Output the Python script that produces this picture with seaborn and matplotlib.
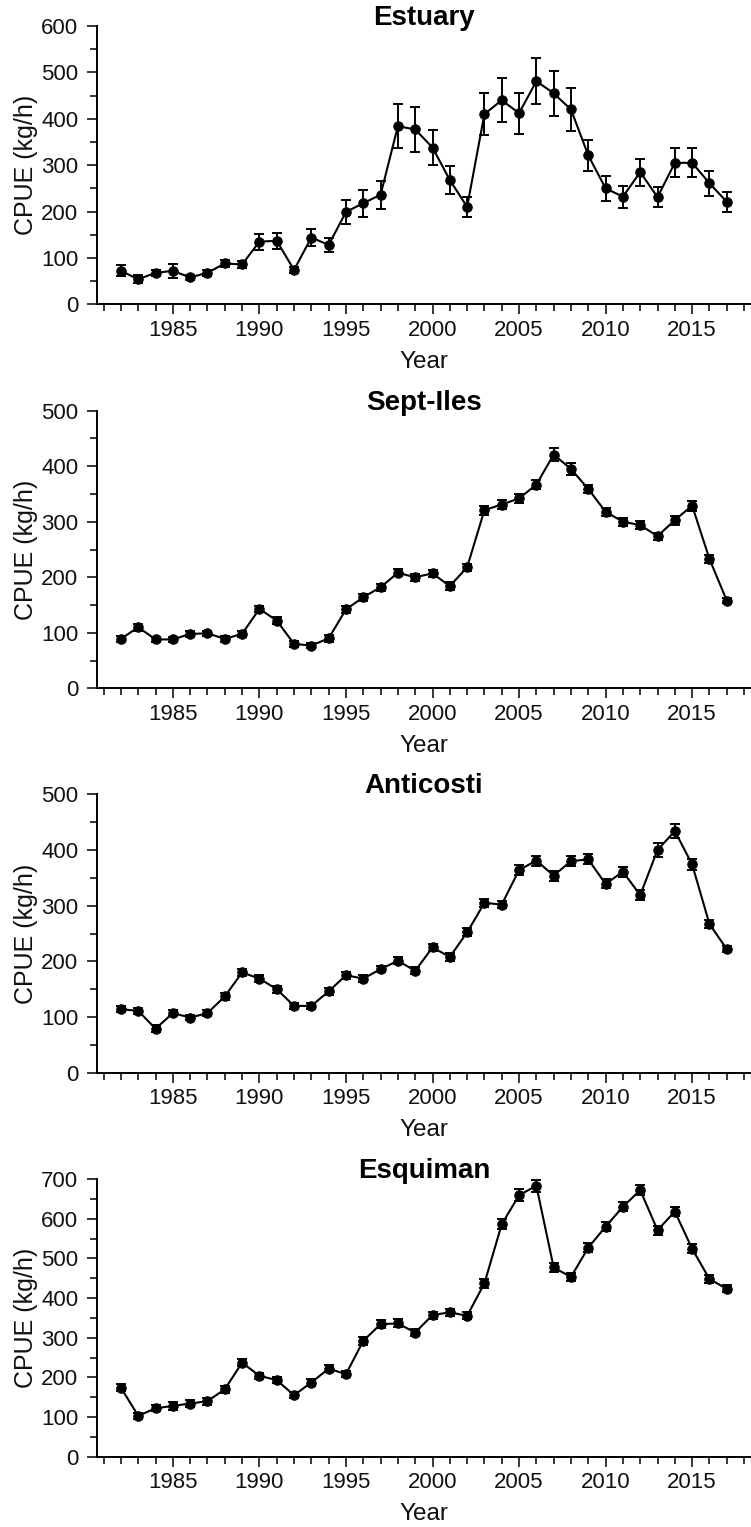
import seaborn as sns
import pandas as pd
import matplotlib
matplotlib.use("Agg")
import matplotlib.pyplot as plt
from matplotlib.ticker import MultipleLocator

# data
years = list(range(1982, 2018))

estuary = [72, 54, 68, 72, 58, 68, 88, 86, 135, 137, 74, 144, 128, 199, 218, 236, 384, 377,
           338, 268, 210, 410, 440, 412, 481, 455, 420, 321, 250, 232, 285, 231, 305, 305, 261, 221]
estuary_err = [12, 9, 7, 15, 6, 7, 8, 8, 17, 17, 6, 18, 16, 26, 29, 30, 47, 48,
               38, 30, 22, 46, 48, 44, 50, 48, 46, 34, 27, 24, 29, 21, 31, 31, 27, 22]

septiles = [89, 110, 88, 88, 98, 99, 89, 98, 143, 122, 80, 77, 90, 142, 164, 182, 208, 200,
            207, 184, 218, 321, 331, 342, 367, 421, 395, 359, 318, 300, 294, 274, 303, 329, 233, 158]
septiles_err = [5, 6, 5, 5, 5, 5, 5, 5, 6, 6, 5, 5, 6, 6, 6, 6, 6, 6,
                6, 7, 6, 8, 8, 8, 8, 12, 10, 8, 7, 7, 7, 6, 8, 9, 7, 5]

anticosti = [114, 111, 79, 107, 99, 107, 137, 180, 169, 150, 120, 120, 146, 175, 169, 186, 201, 183,
             225, 208, 252, 305, 302, 364, 381, 354, 380, 383, 339, 361, 319, 400, 434, 374, 267, 222]
anticosti_err = [5, 5, 6, 5, 5, 6, 6, 6, 6, 6, 6, 6, 6, 6, 6, 6, 6, 6,
                 6, 7, 7, 7, 7, 9, 9, 9, 9, 9, 8, 9, 9, 12, 13, 10, 7, 5]

esquiman = [174, 103, 122, 128, 134, 140, 170, 237, 204, 193, 155, 187, 222, 208, 292, 334, 336, 313,
            357, 364, 355, 437, 586, 659, 683, 477, 453, 527, 580, 630, 672, 571, 618, 524, 448, 423]
esquiman_err = [8, 7, 8, 10, 9, 9, 9, 9, 8, 8, 8, 8, 8, 8, 10, 10, 10, 9,
                9, 9, 9, 12, 13, 15, 15, 12, 11, 11, 12, 11, 13, 11, 12, 11, 9, 9]

titles = ["Estuary", "Sept-Iles", "Anticosti", "Esquiman"]
series = [estuary, septiles, anticosti, esquiman]
errors = [estuary_err, septiles_err, anticosti_err, esquiman_err]
ymax = [600, 500, 500, 700]

sns.set_style("ticks")
plt.rcParams['font.family'] = ['Liberation Sans', 'DejaVu Sans']

fig = plt.figure(figsize=(7.51, 15.27), dpi=100)
H = 1527.0
W = 751.0
# (top px, bottom px) of each panel
panel_px = [(26, 304.3), (410.7, 688.3), (794.3, 1072.7), (1179, 1456.7)]
left_px = 96.7

for i in range(4):
    top, bot = panel_px[i]
    ax = fig.add_axes([left_px / W, 1 - bot / H, 1 - left_px / W, (bot - top) / H])
    df = pd.DataFrame({"Year": years, "CPUE": series[i], "err": errors[i]})
    ax.errorbar(df.Year, df.CPUE, yerr=df.err, fmt='none', ecolor='black',
                elinewidth=1.4, capsize=3.6, capthick=1.4, zorder=2)
    sns.lineplot(data=df, x="Year", y="CPUE", ax=ax, color='black', linewidth=1.5,
                 marker='o', markersize=6.8, markeredgecolor='black', zorder=3)
    ax.set_xlim(1980.6, 2018.4)
    ax.set_ylim(0, ymax[i])
    ax.xaxis.set_major_locator(MultipleLocator(5))
    ax.xaxis.set_minor_locator(MultipleLocator(1))
    ax.yaxis.set_major_locator(MultipleLocator(100))
    ax.yaxis.set_minor_locator(MultipleLocator(50))
    ax.tick_params(which='major', length=7.2, width=1.1, labelsize=16, color='black', labelcolor='#111111')
    ax.tick_params(which='minor', length=5, width=1.1, color='black')
    ax.tick_params(axis='y', which='major', pad=6)
    ax.tick_params(axis='x', which='major', pad=4)
    for s in ['left', 'bottom']:
        ax.spines[s].set_linewidth(1.4)
        ax.spines[s].set_color('black')
    sns.despine(ax=ax)
    ax.set_xlabel("Year", fontsize=17.5, labelpad=7, color='#111111')
    ax.set_ylabel("CPUE (kg/h)", fontsize=18, labelpad=2, color='#111111')
    ax.text(0.5, 1.004, titles[i], transform=ax.transAxes, ha='center', va='baseline',
            fontsize=20, fontweight='bold', color='black')

plt.savefig("out.png", dpi=100)
